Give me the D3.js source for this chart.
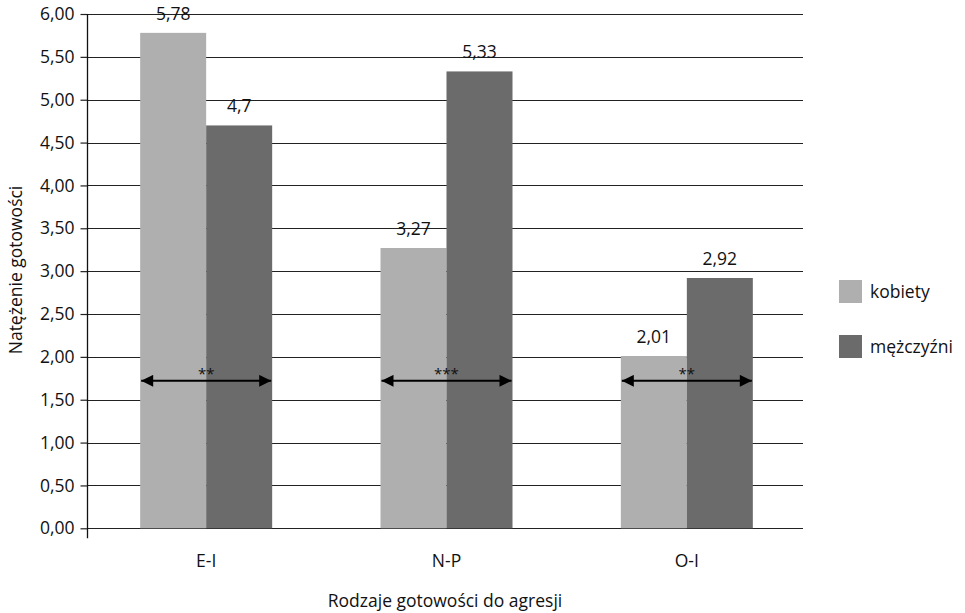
<!DOCTYPE html>
<html><head><meta charset="utf-8">
<script src="https://cdn.jsdelivr.net/npm/d3@7"></script>
<style>body{margin:0;background:#fff}svg{display:block}text{font-family:"Open Sans",sans-serif;fill:#111}</style>
</head><body>
<svg id="c" width="965" height="613"></svg>
<script>
const categories = ["E-I", "N-P", "O-I"];
const seriesNames = ["kobiety", "mężczyźni"];
const kobiety = [5.78, 3.27, 2.01];
const mezczyzni = [4.7, 5.33, 2.92];
const valueLabels = [["5,78", "3,27", "2,01"], ["4,7", "5,33", "2,92"]];
const significance = ["**", "***", "**"];
const arrowLevel = [1.72, 1.72, 1.72];
const yTicks = [0, 0.5, 1, 1.5, 2, 2.5, 3, 3.5, 4, 4.5, 5, 5.5, 6];
const colors = ["#afafaf", "#6b6b6b"];

(function () {
const series = [kobiety, mezczyzni];
const svg = d3.select("#c");
const pL = 87, pR = 803, pT = 14, pB = 528.3;
const FS = "17.5px";
const y = d3.scaleLinear().domain([0, 6]).range([pB, pT]);
const x = d3.scaleBand().domain(categories).range([86, 807]).paddingInner(0).paddingOuter(0);
const bw = 66;
const x1 = d3.scaleBand().domain([0, 1]).range([0, bw * 2]);

const fmt = v => d3.format(".2f")(v).replace(".", ",");

// gridlines
svg.append("g").selectAll("line").data(yTicks).join("line")
  .attr("x1", pL).attr("x2", pR)
  .attr("y1", d => Math.round(y(d)) + 0.5).attr("y2", d => Math.round(y(d)) + 0.5)
  .attr("stroke", "#222").attr("stroke-width", 1.2);

// y axis
const yAxis = d3.axisLeft(y).tickValues(yTicks).tickFormat(fmt).tickSize(7).tickPadding(6);
const ga = svg.append("g").attr("transform", `translate(${pL + 0.5},0)`).call(yAxis);
ga.select(".domain").remove();
ga.selectAll("line").attr("stroke", "#222").attr("stroke-width", 1.2);
ga.selectAll("text").style("font-size", FS).style("font-family", "'Open Sans',sans-serif").attr("fill", "#111");
svg.append("line").attr("x1", pL + 0.5).attr("x2", pL + 0.5).attr("y1", pT).attr("y2", pB + 10)
  .attr("stroke", "#111").attr("stroke-width", 1.3);

// bars
series.forEach((s, si) => {
  svg.append("g").selectAll("rect").data(categories).join("rect")
    .attr("x", (c) => x(c) + x.bandwidth() / 2 - bw + x1(si))
    .attr("width", x1.bandwidth())
    .attr("y", (c, i) => y(s[i]))
    .attr("height", (c, i) => y(0) - y(s[i]))
    .attr("fill", colors[si]);
  svg.append("g").selectAll("text").data(categories).join("text")
    .attr("x", (c) => x(c) + x.bandwidth() / 2 - bw + x1(si) + x1.bandwidth() / 2)
    .attr("y", (c, i) => y(s[i]) - 13)
    .attr("text-anchor", "middle").style("font-size", FS)
    .text((c, i) => valueLabels[si][i]);
});

// arrows
const defs = svg.append("defs");
defs.append("marker").attr("id", "arr").attr("viewBox", "0 0 10 10").attr("refX", 10).attr("refY", 5)
  .attr("markerWidth", 6.5).attr("markerHeight", 6).attr("markerUnits", "strokeWidth").attr("orient", "auto-start-reverse")
  .append("path").attr("d", "M0,0L10,5L0,10Z").attr("fill", "#000");
svg.append("g").selectAll("line").data(categories).join("line")
  .attr("x1", c => x(c) + x.bandwidth() / 2 - bw + 1)
  .attr("x2", c => x(c) + x.bandwidth() / 2 + bw - 1)
  .attr("y1", (c, i) => y(arrowLevel[i])).attr("y2", (c, i) => y(arrowLevel[i]))
  .attr("stroke", "#000").attr("stroke-width", 2)
  .attr("marker-start", "url(#arr)").attr("marker-end", "url(#arr)");
svg.append("g").selectAll("text").data(categories).join("text")
  .attr("x", c => x(c) + x.bandwidth() / 2)
  .attr("y", (c, i) => y(arrowLevel[i]) - 2)
  .attr("text-anchor", "middle").style("font-size", "15px").attr("fill", "#222")
  .text((c, i) => significance[i]);

// x labels
svg.append("g").selectAll("text").data(categories).join("text")
  .attr("x", c => x(c) + x.bandwidth() / 2).attr("y", 567)
  .attr("text-anchor", "middle").style("font-size", FS).text(c => c);

// axis titles
svg.append("text").attr("x", 445).attr("y", 607).attr("text-anchor", "middle").style("font-size", FS)
  .text("Rodzaje gotowości do agresji");
svg.append("text").attr("transform", "translate(22,270) rotate(-90)").attr("text-anchor", "middle").style("font-size", FS)
  .text("Natężenie gotowości");

// legend
const lg = svg.append("g");
seriesNames.forEach((n, i) => {
  lg.append("rect").attr("x", 839).attr("y", 280 + i * 55).attr("width", 23).attr("height", 23).attr("fill", colors[i]);
  lg.append("text").attr("x", 870).attr("y", 298 + i * 55).style("font-size", FS).text(n);
});
})();
</script>
</body></html>
